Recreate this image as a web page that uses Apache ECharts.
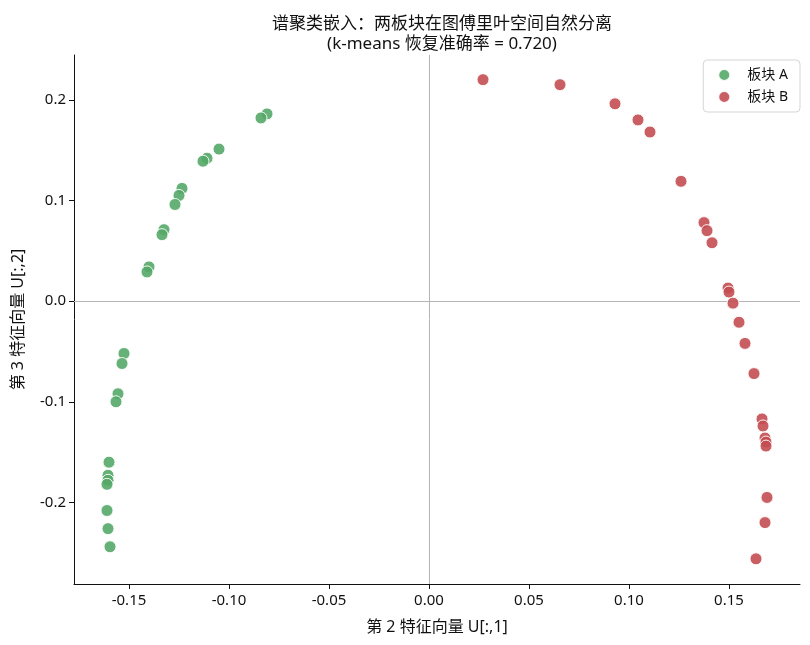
<!DOCTYPE html>
<html>
<head>
<meta charset="utf-8">
<script src="https://cdn.jsdelivr.net/npm/echarts@6/dist/echarts.min.js"></script>
<style>
  html, body { margin: 0; padding: 0; background: #fff; }
  #chart { width: 810px; height: 645px; }
</style>
</head>
<body>
<div id="chart"></div>
<script>
// 板块 A 的谱嵌入坐标 [U[:,1], U[:,2]]
const blockA = [
  [-0.081, 0.186], [-0.084, 0.182], [-0.105, 0.151], [-0.111, 0.142],
  [-0.113, 0.139], [-0.1235, 0.112], [-0.125, 0.105], [-0.127, 0.096],
  [-0.1325, 0.071], [-0.1335, 0.066], [-0.140, 0.034], [-0.141, 0.029],
  [-0.1525, -0.052], [-0.1535, -0.062], [-0.1555, -0.092], [-0.1565, -0.100],
  [-0.160, -0.160], [-0.1605, -0.173], [-0.1605, -0.178], [-0.161, -0.182],
  [-0.161, -0.208], [-0.1605, -0.226], [-0.1595, -0.244]
];

// 板块 B
const blockB = [
  [0.027, 0.220], [0.0655, 0.215], [0.093, 0.196], [0.1045, 0.180],
  [0.1105, 0.168], [0.126, 0.119], [0.1375, 0.078], [0.139, 0.070],
  [0.1415, 0.058], [0.1495, 0.013], [0.150, 0.009], [0.152, -0.002],
  [0.155, -0.021], [0.158, -0.042], [0.1625, -0.072], [0.1665, -0.117],
  [0.167, -0.124], [0.168, -0.136], [0.1685, -0.140], [0.1685, -0.144],
  [0.169, -0.195], [0.168, -0.220], [0.1635, -0.256]
];

const xTicks = [-0.15, -0.10, -0.05, 0.00, 0.05, 0.10, 0.15];
const yTicks = [-0.2, -0.1, 0.0, 0.1, 0.2];

const fontFamily = '"Noto Sans", "Noto Sans CJK SC", sans-serif';

const chart = echarts.init(document.getElementById('chart'));

const pointStyle = (color) => ({
  color: color,
  opacity: 0.9,
  borderColor: '#ffffff',
  borderWidth: 1
});

const option = {
  animation: false,
  title: {
    text: '谱聚类嵌入：两板块在图傅里叶空间自然分离\n(k-means 恢复准确率 = 0.720)',
    left: 437,
    textAlign: 'center',
    top: 9,
    textStyle: {
      fontFamily: fontFamily,
      fontSize: 17,
      fontWeight: 'normal',
      color: '#111',
      lineHeight: 20
    }
  },
  legend: {
    orient: 'vertical',
    right: 10,
    top: 60,
    itemWidth: 12,
    itemHeight: 12,
    itemGap: 8,
    padding: [8, 12, 8, 14],
    borderColor: '#d5d5d5',
    borderWidth: 1,
    borderRadius: 4,
    textStyle: { fontFamily: fontFamily, fontSize: 14, color: '#111', padding: [0, 0, 0, 12] },
    data: [
      { name: '板块 A', icon: 'circle' },
      { name: '板块 B', icon: 'circle' }
    ]
  },
  grid: { left: 74, right: 10, top: 55, bottom: 61 },
  xAxis: {
    type: 'value',
    min: -0.1775,
    max: 0.1855,
    name: '第 2 特征向量 U[:,1]',
    nameLocation: 'middle',
    nameGap: 35,
    nameTextStyle: { fontFamily: fontFamily, fontSize: 16, color: '#111' },
    splitLine: { show: false },
    axisLine: { onZero: false, lineStyle: { color: '#111', width: 1 } },
    axisTick: { show: true, length: 5, lineStyle: { color: '#111' }, customValues: xTicks },
    axisLabel: {
      fontFamily: fontFamily, fontSize: 15, color: '#111', margin: 9,
      customValues: xTicks,
      formatter: (v) => v.toFixed(2)
    }
  },
  yAxis: {
    type: 'value',
    min: -0.281,
    max: 0.2445,
    name: '第 3 特征向量 U[:,2]',
    nameLocation: 'middle',
    nameGap: 48,
    nameTextStyle: { fontFamily: fontFamily, fontSize: 16, color: '#111' },
    splitLine: { show: false },
    axisLine: { show: true, onZero: false, lineStyle: { color: '#111', width: 1 } },
    axisTick: { show: true, length: 5, lineStyle: { color: '#111' }, customValues: yTicks },
    axisLabel: {
      fontFamily: fontFamily, fontSize: 15, color: '#111', margin: 8,
      customValues: yTicks,
      formatter: (v) => v.toFixed(1)
    }
  },
  series: [
    {
      name: '板块 A',
      type: 'scatter',
      symbolSize: 12,
      data: blockA,
      itemStyle: pointStyle('#55a868'),
      z: 3,
      markLine: {
        silent: true,
        symbol: 'none',
        label: { show: false },
        lineStyle: { color: '#b5b5b5', width: 1, type: 'solid' },
        z: 1,
        data: [{ xAxis: 0 }, { yAxis: 0 }]
      }
    },
    {
      name: '板块 B',
      type: 'scatter',
      symbolSize: 12,
      data: blockB,
      itemStyle: pointStyle('#c44e52'),
      z: 3
    }
  ]
};

chart.setOption(option);
</script>
</body>
</html>
